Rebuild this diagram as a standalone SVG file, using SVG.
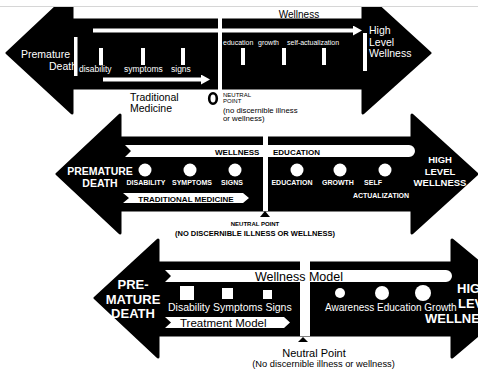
<svg xmlns="http://www.w3.org/2000/svg" width="478" height="379" viewBox="0 0 478 379">
<defs>
<style>
.body{fill:#000;stroke:#000;stroke-width:3;stroke-linejoin:round}
.w{fill:#fff}
.k{fill:#000}
text{font-family:"Liberation Sans",Arial,sans-serif}
.b{font-weight:bold}
.wl{stroke:#fff;stroke-width:4;fill:none}
.m{text-anchor:middle}
</style>
<marker id="ah" markerUnits="userSpaceOnUse" markerWidth="9" markerHeight="10" viewBox="0 0 9 10" refX="3" refY="5" orient="auto"><path d="M0,0 L9,5 L0,10 Z" fill="#fff"/></marker>
</defs>
<rect width="478" height="379" fill="#fff"/>

<!-- Diagram 1 -->
<g id="continuum1">
<path class="body" d="M7,53 L72,-8 L72,20 L363,20 L363,-8 L430,53 L363,113 L363,88 L72,88 L72,113 Z"/>
<rect x="218" y="18" width="4" height="73" class="w"/>
</g>
<rect x="0" y="0" width="478" height="6" fill="#fff"/>
<line x1="0" y1="6.5" x2="478" y2="6.5" stroke="#d6d6d6" stroke-width="1"/>

<!-- Diagram 2 -->
<g id="continuum2">
<path class="body" d="M57,174 L120,115 L120,138 L412,138 L412,115 L477,174 L412,233 L412,210 L120,210 L120,233 Z"/>
<rect x="263" y="136" width="5" height="75" class="w"/>
</g>

<!-- Diagram 3 -->
<g id="continuum3">
<path class="body" d="M95,298 L158,240 L158,263 L452,263 L452,240 L522,298 L452,357 L452,335 L158,335 L158,357 Z"/>
<rect x="300" y="261" width="10" height="75" class="w"/>
</g>

<g id="connectors">
<line class="wl" x1="93" y1="30.5" x2="356" y2="30.5" marker-end="url(#ah)"/>
<line class="wl" x1="103" y1="79.5" x2="204" y2="79.5" marker-end="url(#ah)"/>
<path class="w" d="M125,145 L131,151 L125,157 L409,157 A6,6 0 0 0 409,145 Z"/>
<path class="w" d="M123,193 L129,198 L123,203 L243,203 L249,198 L243,193 Z"/>
<path class="w" d="M165,270 L171,276 L165,282 L446,282 A6,6 0 0 0 446,270 Z"/>
<path class="w" d="M165,317 L171,322.5 L165,328 L284,328 L290,322.5 L284,317 Z"/>
</g>

<!-- Diagram 1 nodes -->
<g id="d1-wellness-label"><text x="299" y="18" font-size="10" class="m">Wellness</text></g>
<g id="d1-premature-death">
<text x="21" y="58" font-size="10.5" class="w">Premature</text>
<text x="49" y="70" font-size="10.5" class="w">Death</text>
<rect x="74" y="37" width="3.5" height="39" class="w"/>
</g>
<g id="d1-illness-markers">
<rect x="99" y="48" width="4" height="17" class="w"/>
<rect x="141" y="48" width="4" height="17" class="w"/>
<rect x="181" y="48" width="4" height="17" class="w"/>
<text x="79" y="72" font-size="8.5" class="w">disability</text>
<text x="124" y="72" font-size="8.5" class="w">symptoms</text>
<text x="171" y="72" font-size="8.5" class="w">signs</text>
</g>
<g id="d1-wellness-markers">
<rect x="241" y="48" width="4" height="17" class="w"/>
<rect x="282" y="48" width="4" height="17" class="w"/>
<rect x="322" y="48" width="4" height="17" class="w"/>
<text x="223" y="45" font-size="7" class="w">education</text>
<text x="258" y="45" font-size="7" class="w">growth</text>
<text x="287" y="45" font-size="7" class="w">self-actualization</text>
</g>
<g id="d1-high-level-wellness">
<rect x="363" y="33" width="4" height="38" class="w"/>
<text x="369" y="34" font-size="10.5" class="w">High</text>
<text x="369" y="46" font-size="10.5" class="w">Level</text>
<text x="369" y="57" font-size="10.5" class="w">Wellness</text>
</g>
<g id="d1-traditional-medicine">
<text x="130" y="101" font-size="10.5">Traditional</text>
<text x="130" y="112" font-size="10.5">Medicine</text>
</g>
<g id="d1-neutral-point">
<ellipse cx="213" cy="98.5" rx="3.8" ry="5.3" fill="none" stroke="#000" stroke-width="2.6"/>
<text x="223" y="97" font-size="6">NEUTRAL</text>
<text x="223" y="103" font-size="6">POINT</text>
<text x="223" y="113" font-size="7.8">(no discernible illness</text>
<text x="223" y="120.5" font-size="7.8">or wellness)</text>
</g>

<!-- Diagram 2 nodes -->
<g id="d2-premature-death">
<text x="100" y="175" font-size="10.5" class="b w m">PREMATURE</text>
<text x="100" y="187" font-size="10.5" class="b w m">DEATH</text>
</g>
<g id="d2-wellness-education">
<text x="215" y="154.5" font-size="8" class="b">WELLNESS</text>
<text x="273" y="154.5" font-size="8" class="b">EDUCATION</text>
</g>
<g id="d2-traditional-medicine"><text x="186" y="201.5" font-size="8" class="b m">TRADITIONAL MEDICINE</text></g>
<g id="d2-illness-markers">
<circle cx="145" cy="170" r="6.5" class="w"/>
<circle cx="190" cy="170" r="6.5" class="w"/>
<circle cx="235" cy="170" r="6.5" class="w"/>
<text x="146" y="185" font-size="7" class="b w m">DISABILITY</text>
<text x="192" y="185" font-size="7" class="b w m">SYMPTOMS</text>
<text x="232" y="185" font-size="7" class="b w m">SIGNS</text>
</g>
<g id="d2-wellness-markers">
<circle cx="297" cy="170" r="6.5" class="w"/>
<circle cx="340" cy="170" r="6.5" class="w"/>
<circle cx="385" cy="170" r="6.5" class="w"/>
<text x="292" y="185" font-size="7" class="b w m">EDUCATION</text>
<text x="338" y="185" font-size="7" class="b w m">GROWTH</text>
<text x="373" y="185" font-size="7" class="b w m">SELF</text>
<text x="381" y="198" font-size="7" class="b w m">ACTUALIZATION</text>
</g>
<g id="d2-high-level-wellness">
<text x="440" y="163" font-size="9.5" class="b w m">HIGH</text>
<text x="440" y="175" font-size="9.5" class="b w m">LEVEL</text>
<text x="440" y="186" font-size="9.5" class="b w m">WELLNESS</text>
</g>
<g id="d2-neutral-point">
<path d="M265,211 L270,217 L260,217 Z" class="k"/>
<text x="255" y="225.5" font-size="6" class="b m">NEUTRAL POINT</text>
<text x="255" y="235.5" font-size="7.5" class="b m">(NO DISCERNIBLE ILLNESS OR WELLNESS)</text>
</g>

<!-- Diagram 3 nodes -->
<g id="d3-premature-death">
<text x="133" y="289" font-size="13" class="b w m">PRE-</text>
<text x="133" y="303.5" font-size="13" class="b w m">MATURE</text>
<text x="133" y="318" font-size="13" class="b w m">DEATH</text>
</g>
<g id="d3-wellness-model"><text x="255" y="280.5" font-size="12.5">Wellness Model</text></g>
<g id="d3-treatment-model"><text x="180" y="327" font-size="11.5">Treatment Model</text></g>
<g id="d3-illness-markers">
<rect x="180" y="286" width="14" height="14" class="w"/>
<rect x="222" y="288" width="11" height="11" class="w"/>
<rect x="263" y="290" width="9" height="9" class="w"/>
<text x="168" y="310.5" font-size="10.5" class="w">Disability Symptoms Signs</text>
</g>
<g id="d3-wellness-markers">
<circle cx="340" cy="293" r="5" class="w"/>
<circle cx="382" cy="293" r="7" class="w"/>
<circle cx="423" cy="293" r="8" class="w"/>
<text x="325" y="310.5" font-size="10" class="w">Awareness Education Growth</text>
</g>
<g id="d3-high-level-wellness">
<text x="457" y="293" font-size="13" class="b w">HIGH</text>
<text x="458" y="308" font-size="13" class="b w">LEVEL</text>
<text x="425" y="323" font-size="13" class="b w">WELLNESS</text>
</g>
<g id="d3-neutral-point">
<path d="M303,337 L308,342 L298,342 Z" class="k"/>
<text x="314" y="357" font-size="11" class="m">Neutral Point</text>
<text x="323.5" y="366.5" font-size="9.3" class="m">(No discernible illness or wellness)</text>
</g>
</svg>
